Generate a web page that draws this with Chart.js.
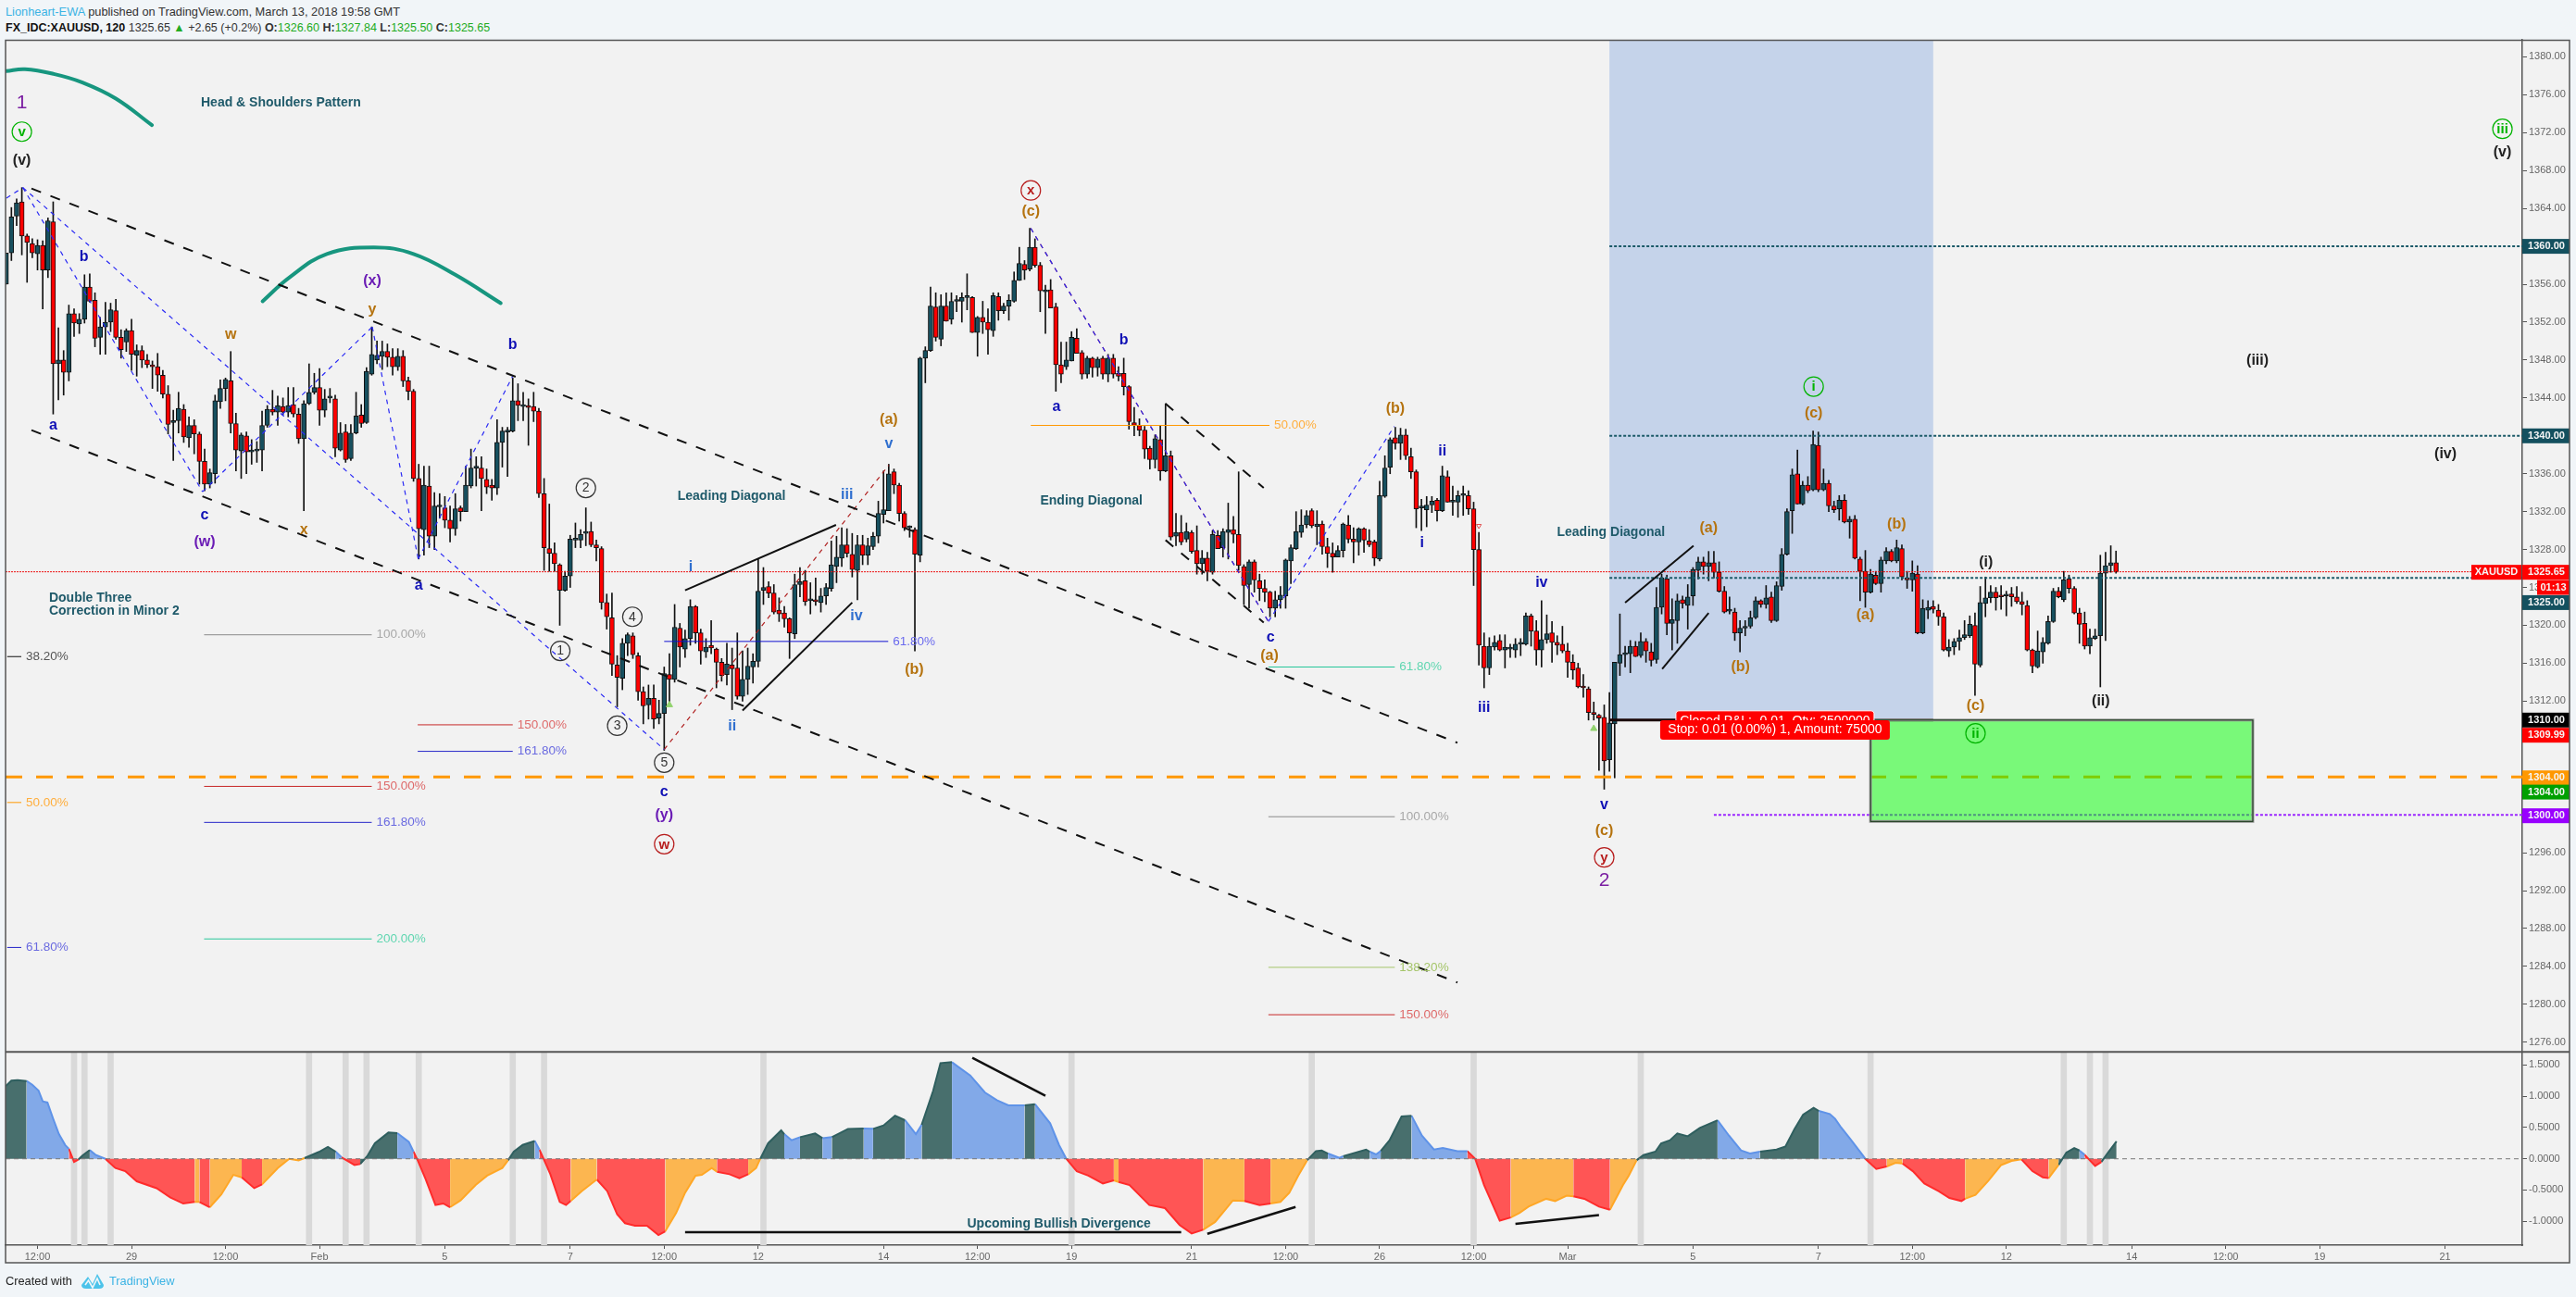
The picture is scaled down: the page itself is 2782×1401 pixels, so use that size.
<!DOCTYPE html>
<html><head><meta charset="utf-8"><title>XAUUSD</title>
<script src="https://cdn.jsdelivr.net/npm/chart.js@4/dist/chart.umd.min.js"></script>
<style>
html,body{margin:0;padding:0;background:#f1f5f8;width:2782px;height:1401px;overflow:hidden;font-family:"Liberation Sans",Arial,sans-serif;font-size:12.8px;color:#333}
canvas{position:absolute;left:0}
.t{position:absolute;white-space:nowrap}
.g{color:#22ab22}.l{color:#3bb3e4}
</style></head><body>
<div class="t" style="left:6px;top:5px"><span class="l">Lionheart-EWA</span> published on TradingView.com, March 13, 2018 19:58 GMT</div>
<div class="t" style="left:6px;top:23px;font-size:12.5px"><b style="color:#111">FX_IDC:XAUUSD, 120</b> 1325.65 <span class="g">▲</span> +2.65 (+0.2%) <b>O:</b><span class="g">1326.60</span> <b>H:</b><span class="g">1327.84</span> <b>L:</b><span class="g">1325.50</span> <b>C:</b><span class="g">1325.65</span></div>
<canvas id="price" width="2782" height="1136" style="top:0;width:2782px;height:1136px"></canvas>
<canvas id="osc" width="2782" height="265" style="top:1136px;width:2782px;height:265px"></canvas>
<div class="t" style="left:6px;top:1376px;color:#222">Created with</div>
<svg class="t" style="left:87px;top:1373px" width="26" height="20" viewBox="0 0 26 20"><path d="M1 15 L8 6 L13 14 L18 3 L25 15 Q25 19 20 19 L6 19 Q1 19 1 15Z" fill="#4cc3ea"/><path d="M5 15 L8.5 10 L13 18 L18 8 L21 15" fill="none" stroke="#f1f5f8" stroke-width="1.6"/></svg>
<div class="t l" style="left:118px;top:1376px">TradingView</div>
<script>
const opens=[1356.0,1359.3,1363.2,1364.7,1361.1,1360.3,1359.2,1360.1,1357.5,1362.6,
1347.6,1348.0,1346.7,1352.9,1351.8,1352.3,1355.7,1354.3,1350.4,1351.5,
1352.0,1353.2,1350.4,1349.9,1351.1,1348.5,1349.0,1348.0,1347.5,1347.3,
1346.4,1344.4,1341.4,1341.6,1342.8,1339.8,1341.1,1340.2,1337.3,1334.9,
1336.0,1343.6,1345.0,1345.8,1341.3,1338.4,1340.0,1338.3,1338.4,1338.5,
1341.1,1342.8,1342.5,1343.1,1342.5,1343.3,1342.3,1339.7,1343.4,1344.6,
1345.1,1342.7,1344.0,1343.9,1338.5,1340.4,1337.6,1340.3,1342.2,1341.4,
1346.5,1348.0,1348.4,1348.9,1348.3,1347.3,1348.4,1345.8,1344.7,1335.5,
1330.1,1334.7,1329.4,1332.5,1332.4,1331.1,1330.2,1332.4,1332.0,1334.7,
1336.6,1336.6,1335.4,1334.8,1334.5,1339.3,1340.4,1340.5,1343.7,1343.1,
1343.1,1343.1,1342.6,1333.9,1328.1,1327.6,1326.4,1323.7,1325.2,1329.0,
1329.0,1329.7,1329.9,1328.5,1328.1,1322.4,1320.8,1315.8,1314.4,1318.1,
1318.9,1316.8,1313.0,1311.6,1312.3,1310.2,1310.7,1314.8,1314.3,1319.7,
1317.5,1318.6,1322.0,1319.2,1317.2,1317.9,1317.5,1316.1,1314.8,1315.8,
1315.5,1312.5,1314.3,1315.6,1316.2,1323.7,1324.1,1323.4,1321.6,1321.3,
1320.7,1319.1,1324.3,1324.7,1322.6,1322.7,1322.4,1323.1,1323.9,1326.2,
1327.1,1328.5,1327.5,1325.8,1328.5,1327.4,1328.3,1329.4,1331.7,1332.1,
1336.2,1334.8,1331.8,1330.3,1330.1,1327.4,1348.2,1349.0,1353.6,1350.2,
1353.7,1352.3,1354.2,1354.2,1354.6,1354.6,1350.9,1352.5,1352.0,1351.1,
1354.7,1353.2,1353.7,1354.2,1356.4,1358.1,1357.6,1359.9,1358.0,1355.2,
1355.4,1353.6,1347.5,1347.3,1347.9,1350.3,1348.8,1346.5,1348.2,1347.2,
1348.2,1346.5,1348.2,1346.6,1346.6,1345.2,1341.4,1341.1,1340.6,1338.7,
1337.5,1339.6,1336.3,1337.9,1329.4,1329.8,1329.1,1329.8,1327.9,1326.5,
1327.1,1325.6,1329.5,1328.2,1329.8,1330.1,1329.6,1326.2,1324.3,1326.7,
1324.7,1323.9,1323.5,1321.8,1322.7,1323.1,1326.8,1328.1,1329.8,1330.6,
1332.1,1330.4,1330.7,1328.3,1327.6,1327.2,1327.9,1330.6,1329.1,1328.8,
1330.2,1328.9,1328.8,1327.0,1333.6,1336.7,1339.8,1339.2,1340.1,1337.8,
1336.2,1332.4,1332.2,1332.7,1333.2,1332.1,1335.7,1333.0,1333.0,1333.7,
1333.7,1332.3,1328.0,1317.8,1315.5,1317.7,1318.4,1317.4,1317.5,1317.4,
1318.0,1318.0,1321.0,1319.4,1317.4,1318.5,1319.2,1318.2,1318.0,1317.3,
1316.1,1315.5,1313.5,1313.3,1310.8,1310.5,1310.3,1305.8,1309.6,1316.0,
1316.9,1317.0,1317.8,1316.8,1318.3,1317.2,1316.4,1321.9,1324.9,1320.2,
1320.5,1322.7,1322.1,1323.1,1325.8,1326.7,1326.2,1326.6,1325.6,1323.6,
1321.5,1321.4,1319.2,1319.7,1319.9,1320.8,1322.6,1322.2,1323.0,1320.5,
1324.1,1327.5,1332.1,1336.0,1332.8,1334.8,1334.3,1339.0,1334.3,1335.0,
1332.6,1332.3,1333.2,1330.9,1331.2,1327.0,1325.7,1323.5,1325.3,1324.4,
1326.8,1327.8,1326.8,1328.1,1325.0,1324.8,1325.4,1319.2,1321.6,1322.0,
1321.6,1320.9,1317.3,1317.7,1318.3,1318.7,1318.9,1320.0,1315.8,1322.3,
1322.9,1323.5,1323.2,1323.1,1323.3,1323.0,1322.5,1322.1,1317.4,1315.6,
1317.2,1318.1,1320.4,1323.6,1322.7,1324.9,1323.9,1321.3,1320.2,1317.8,
1318.6,1318.9,1325.5,1326.3,1326.6];
const highs=[1359.3,1364.1,1365.0,1366.2,1361.3,1360.8,1360.7,1360.6,1363.0,1364.7,
1351.4,1349.0,1353.8,1353.4,1352.9,1357.0,1357.1,1355.1,1352.5,1354.1,
1354.0,1354.4,1351.2,1351.3,1352.3,1349.6,1349.5,1348.6,1347.9,1348.7,
1346.9,1345.3,1342.7,1344.6,1343.3,1342.0,1341.7,1340.4,1338.6,1336.5,
1344.3,1345.9,1346.1,1348.9,1342.4,1340.3,1340.4,1339.6,1339.4,1342.6,
1343.2,1344.8,1344.2,1344.0,1345.1,1345.1,1342.9,1343.7,1347.6,1346.6,
1347.1,1344.9,1345.0,1344.3,1341.4,1341.2,1341.2,1344.6,1343.3,1347.2,
1351.5,1350.0,1350.0,1349.7,1349.2,1349.2,1349.0,1346.2,1344.9,1337.0,
1336.8,1336.8,1334.0,1333.9,1333.6,1332.6,1333.9,1332.6,1336.8,1338.6,
1337.8,1337.8,1336.5,1335.4,1341.7,1340.9,1340.9,1346.1,1345.5,1344.6,
1343.9,1344.6,1342.9,1335.5,1332.8,1328.7,1326.5,1325.7,1329.5,1330.8,
1330.1,1332.4,1330.9,1329.0,1328.3,1323.3,1323.4,1316.8,1318.6,1319.2,
1319.2,1317.1,1313.5,1313.7,1313.7,1312.1,1315.6,1317.0,1322.2,1320.2,
1319.5,1322.7,1322.1,1319.6,1318.6,1320.5,1317.6,1316.5,1318.1,1317.6,
1319.2,1317.3,1317.6,1317.0,1327.0,1326.1,1324.6,1324.3,1322.9,1322.0,
1320.8,1325.4,1326.1,1325.8,1324.5,1325.0,1323.9,1324.4,1328.9,1329.4,
1330.3,1330.2,1329.7,1329.5,1329.5,1329.2,1329.8,1333.1,1336.3,1337.0,
1336.5,1335.0,1332.0,1330.5,1330.3,1348.3,1349.4,1355.7,1355.1,1354.9,
1355.1,1355.1,1354.8,1355.1,1357.1,1354.7,1352.6,1354.2,1353.4,1355.1,
1355.1,1354.0,1354.9,1357.3,1359.9,1358.5,1361.9,1360.8,1358.3,1355.9,
1356.5,1354.0,1349.9,1349.9,1351.0,1351.3,1349.0,1348.4,1348.3,1348.3,
1348.4,1348.6,1348.6,1347.3,1348.2,1345.3,1343.0,1341.8,1341.0,1338.9,
1340.1,1341.1,1343.4,1338.4,1331.8,1331.6,1330.8,1330.0,1330.5,1327.9,
1327.7,1330.0,1330.0,1330.2,1332.9,1331.5,1336.2,1326.4,1326.9,1326.9,
1325.4,1324.8,1323.6,1323.6,1324.1,1327.0,1328.5,1332.0,1332.2,1332.1,
1332.3,1332.1,1331.0,1329.2,1328.7,1328.4,1330.8,1331.6,1330.3,1330.3,
1330.3,1330.1,1329.0,1335.2,1337.9,1339.8,1340.9,1340.8,1340.7,1338.7,
1336.4,1333.3,1333.6,1333.6,1333.4,1336.8,1336.3,1334.7,1334.2,1334.7,
1334.2,1333.0,1329.8,1319.2,1318.7,1318.9,1319.0,1319.0,1318.0,1318.6,
1318.6,1321.3,1321.2,1320.5,1322.6,1321.1,1320.4,1318.9,1319.9,1318.1,
1316.9,1316.0,1314.8,1313.5,1311.9,1310.6,1311.6,1312.9,1316.1,1321.2,
1317.8,1318.4,1318.3,1319.2,1318.6,1318.1,1324.0,1325.4,1325.3,1322.8,
1323.3,1323.1,1324.3,1326.1,1327.2,1327.2,1327.8,1327.8,1326.7,1324.1,
1323.0,1321.8,1320.5,1320.5,1321.5,1323.0,1322.7,1324.2,1323.5,1324.6,
1328.1,1332.3,1336.5,1338.5,1335.2,1335.7,1340.5,1340.4,1336.5,1335.3,
1333.1,1333.7,1333.8,1331.5,1331.6,1327.2,1327.9,1325.9,1325.7,1327.2,
1328.2,1328.0,1329.0,1328.5,1325.7,1326.8,1326.3,1322.7,1322.6,1322.6,
1322.2,1321.3,1318.5,1318.6,1319.5,1320.5,1321.0,1321.3,1324.1,1325.1,
1324.2,1324.0,1324.2,1323.6,1324.0,1324.1,1323.5,1322.6,1317.5,1319.4,
1318.7,1321.0,1323.9,1324.0,1325.7,1325.3,1324.1,1321.8,1321.4,1319.6,
1319.6,1327.4,1327.7,1328.4,1327.84];
const lows=[1356.0,1358.5,1362.2,1359.1,1356.2,1358.8,1357.5,1353.4,1356.7,1342.3,
1343.8,1344.3,1345.8,1350.5,1350.8,1351.9,1354.1,1349.4,1348.6,1348.6,
1351.0,1350.2,1348.2,1348.9,1346.9,1346.3,1347.2,1347.2,1345.0,1344.7,
1344.0,1340.2,1337.4,1340.3,1339.3,1338.8,1338.1,1334.9,1334.2,1334.5,
1335.0,1342.9,1343.7,1340.3,1336.3,1335.5,1336.0,1337.0,1337.2,1336.3,
1340.9,1342.2,1341.1,1342.2,1342.0,1342.0,1339.2,1332.1,1343.3,1344.4,
1341.1,1342.0,1343.5,1337.8,1338.4,1337.2,1337.4,1340.2,1340.9,1341.3,
1346.4,1347.6,1347.0,1347.3,1346.4,1346.9,1345.2,1343.8,1335.2,1327.0,
1327.4,1328.2,1328.0,1331.3,1330.3,1328.8,1329.5,1331.0,1332.0,1334.5,
1334.7,1332.1,1333.9,1333.2,1333.8,1336.7,1335.7,1340.4,1341.6,1341.6,
1339.0,1341.5,1333.5,1325.8,1325.7,1325.7,1320.0,1323.6,1324.0,1328.2,
1328.2,1328.4,1328.3,1326.8,1321.7,1319.6,1314.7,1311.4,1313.2,1316.8,
1316.5,1312.1,1309.6,1310.1,1309.1,1309.6,1306.8,1311.9,1314.0,1315.6,
1316.6,1317.9,1318.1,1315.9,1316.6,1317.0,1313.4,1314.1,1313.7,1311.1,
1312.2,1312.0,1312.7,1313.9,1315.6,1322.2,1322.9,1321.2,1320.4,1319.8,
1316.5,1318.6,1323.0,1322.1,1321.2,1322.1,1321.4,1322.2,1323.6,1324.5,
1326.2,1327.2,1325.1,1322.7,1326.4,1326.4,1328.0,1328.7,1330.8,1332.1,
1333.9,1331.0,1330.0,1329.3,1317.3,1326.7,1345.6,1348.9,1350.0,1349.5,
1352.1,1351.8,1353.1,1352.0,1353.3,1350.9,1348.4,1350.8,1348.6,1350.5,
1352.2,1352.9,1352.2,1354.1,1356.4,1356.5,1357.4,1357.8,1353.1,1350.8,
1353.5,1344.7,1345.6,1347.0,1347.9,1348.7,1346.0,1346.1,1346.2,1346.3,
1346.0,1345.7,1346.1,1345.8,1344.3,1340.7,1340.0,1340.0,1337.6,1336.5,
1336.6,1335.3,1336.2,1329.0,1328.4,1328.5,1328.8,1327.6,1325.4,1325.4,
1324.7,1325.4,1328.1,1327.2,1327.0,1328.7,1325.8,1322.2,1321.8,1323.5,
1322.6,1322.5,1320.9,1320.9,1321.8,1321.8,1324.4,1328.0,1329.3,1330.3,
1330.3,1328.5,1327.5,1326.1,1325.6,1327.2,1327.2,1328.7,1326.6,1327.4,
1327.7,1328.3,1326.3,1326.8,1333.5,1336.0,1338.6,1337.5,1337.5,1335.5,
1330.3,1330.0,1330.4,1331.9,1331.0,1332.0,1333.0,1331.6,1331.4,1331.6,
1331.7,1324.2,1315.8,1313.4,1314.8,1317.4,1317.3,1315.5,1316.6,1316.6,
1316.8,1317.9,1317.8,1315.8,1315.6,1318.1,1316.1,1316.9,1317.1,1314.5,
1314.3,1313.4,1312.4,1310.0,1310.0,1304.7,1302.7,1304.6,1303.9,1314.7,
1315.6,1315.0,1316.7,1316.6,1316.1,1315.7,1316.0,1321.2,1319.0,1317.4,
1318.1,1321.8,1319.6,1322.1,1324.9,1325.4,1324.7,1325.0,1323.5,1321.3,
1321.2,1318.4,1317.2,1318.9,1319.7,1320.7,1321.9,1321.8,1320.3,1320.4,
1323.7,1327.4,1329.7,1332.8,1332.7,1334.0,1334.2,1334.1,1334.2,1332.0,
1331.9,1331.1,1330.8,1329.2,1327.0,1322.6,1321.9,1323.4,1324.3,1323.5,
1326.5,1326.7,1326.6,1324.8,1323.9,1323.6,1319.1,1319.1,1320.7,1321.3,
1320.0,1317.3,1316.7,1316.9,1317.4,1318.5,1318.7,1312.6,1315.6,1320.9,
1322.4,1321.6,1321.7,1321.0,1322.0,1322.3,1321.1,1317.3,1315.0,1315.5,
1316.0,1318.0,1320.3,1322.9,1322.5,1323.4,1321.2,1318.1,1317.5,1317.0,
1318.5,1313.5,1318.4,1325.6,1325.5];
const closes=[1359.3,1363.1,1364.6,1361.1,1360.4,1359.3,1360.1,1357.5,1362.7,1347.6,
1348.0,1346.7,1352.9,1351.9,1352.3,1355.7,1354.2,1350.3,1351.5,1352.0,
1353.3,1350.4,1349.1,1351.1,1348.6,1349.0,1348.0,1347.5,1347.3,1346.4,
1344.4,1341.2,1341.6,1342.9,1339.9,1341.1,1340.2,1337.3,1334.9,1336.1,
1343.7,1345.0,1345.95,1341.3,1338.5,1340.1,1338.3,1338.4,1338.5,1341.1,
1342.8,1342.5,1343.2,1342.5,1343.2,1342.3,1339.7,1343.4,1344.6,1345.1,
1342.7,1343.9,1344.0,1338.7,1340.3,1337.5,1340.3,1342.1,1341.3,1346.8,
1348.6,1348.5,1348.9,1348.3,1347.3,1348.4,1345.8,1344.7,1335.5,1330.2,
1334.8,1329.4,1332.6,1332.6,1331.1,1330.2,1332.3,1332.0,1334.8,1336.6,
1336.8,1335.5,1334.6,1334.5,1339.3,1340.5,1340.5,1343.7,1343.2,1343.1,
1343.0,1342.6,1333.9,1328.2,1327.6,1326.5,1323.7,1325.2,1329.1,1329.0,
1329.6,1329.8,1328.5,1328.2,1322.4,1320.9,1315.9,1314.5,1318.1,1319.0,
1316.9,1313.0,1311.5,1312.3,1310.1,1310.7,1314.9,1314.3,1319.8,1317.7,
1318.6,1322.0,1319.2,1317.3,1317.7,1317.6,1316.1,1314.7,1315.9,1315.4,
1312.5,1314.3,1315.7,1316.2,1323.6,1324.0,1323.4,1321.4,1321.2,1320.7,
1319.2,1324.3,1324.6,1322.5,1322.6,1322.5,1323.1,1324.0,1326.4,1327.2,
1328.5,1327.6,1325.9,1328.5,1327.4,1328.4,1329.4,1331.8,1332.2,1336.0,
1334.8,1331.8,1330.3,1330.3,1327.5,1348.2,1349.0,1353.7,1350.4,1353.7,
1352.1,1354.2,1354.3,1354.6,1354.6,1350.9,1352.5,1352.0,1351.2,1354.8,
1353.2,1353.7,1354.3,1356.4,1358.2,1357.5,1359.9,1358.0,1355.3,1355.4,
1353.5,1347.5,1346.5,1348.0,1350.4,1348.7,1346.5,1348.2,1347.2,1348.1,
1346.5,1348.2,1346.5,1346.3,1345.2,1341.5,1341.1,1340.6,1338.6,1337.5,
1339.7,1336.3,1337.9,1329.3,1329.8,1328.8,1329.9,1327.8,1326.5,1327.1,
1325.7,1329.6,1328.1,1329.9,1330.1,1329.6,1326.3,1324.2,1326.7,1324.8,
1323.9,1323.5,1321.8,1322.7,1323.2,1326.9,1328.2,1329.9,1330.6,1331.6,
1330.5,1330.7,1328.3,1327.6,1327.2,1327.9,1330.7,1329.1,1328.8,1330.2,
1329.0,1328.5,1327.1,1333.7,1336.6,1339.6,1339.2,1340.1,1337.9,1336.2,
1332.3,1332.5,1332.7,1333.1,1332.1,1335.8,1333.0,1333.1,1333.7,1333.7,
1332.3,1328.0,1317.9,1315.5,1317.8,1318.2,1317.4,1317.7,1317.5,1318.0,
1318.1,1321.0,1319.4,1317.4,1318.5,1319.1,1318.2,1317.9,1317.3,1316.1,
1315.3,1313.5,1313.4,1310.8,1310.6,1310.2,1305.7,1309.7,1316.1,1316.9,
1317.0,1317.8,1316.7,1318.3,1317.3,1316.3,1321.9,1325.0,1320.2,1320.6,
1322.6,1322.3,1323.0,1325.9,1326.7,1326.2,1326.6,1325.6,1323.6,1321.4,
1321.5,1319.2,1319.7,1319.7,1320.8,1322.6,1322.2,1322.9,1320.5,1324.2,
1327.5,1332.0,1335.9,1332.8,1334.8,1334.2,1339.1,1334.3,1335.0,1332.6,
1332.2,1333.2,1330.9,1331.2,1327.1,1325.7,1323.5,1325.4,1324.4,1326.9,
1327.8,1326.8,1328.2,1325.1,1324.8,1325.5,1319.2,1321.8,1321.9,1321.7,
1320.9,1317.4,1317.7,1318.3,1318.7,1319.0,1320.1,1315.9,1322.4,1322.9,
1323.5,1322.9,1323.0,1323.2,1323.0,1322.5,1322.2,1317.4,1315.7,1317.3,
1318.2,1320.4,1323.6,1323.0,1324.8,1323.9,1321.3,1320.1,1317.8,1318.7,
1318.9,1325.5,1326.3,1326.6,1325.65];

const dayTickBars=[6,24,42,60,84,108,126,144,168,186,204,227,245,263,281,299,323,347,365,383,407,425,443,467];
const dayTickLabels=["12:00","29","12:00","Feb","5","7","12:00","12","14","12:00","19","21","12:00","26","12:00","Mar","5","7","12:00","12","14","12:00","19","21"];
const priceTicks=[1276,1280,1284,1288,1292,1296,1300,1304,1308,1312,1316,1320,1324,1328,1332,1336,1340,1344,1348,1352,1356,1360,1364,1368,1372,1376,1380];
const oscTicks=[-1,-0.5,0,0.5,1,1.5];

const oscBars=[-0.12,1,2.2,3.9,5,6.2,7,7.9,9,10.1,11.3,12,13,13.8,14.6,16,17.1,19,20.9,22.8,25,28.8,31.4,33.9,36.1,37,39,41.2,43.5,45.1,47.5,49,52,54.2,56,57.1,59.9,61.6,63.1,64.2,66.7,67.8,69.2,70.6,73.2,74.9,77.1,78,78.8,80.3,82.2,83.7,85,87,89.9,92.1,95,96.1,97.2,98.9,101.2,102.1,102.9,104.2,106,107.2,108.1,110.2,113.1,115.1,117,118.5,120.4,122.7,124.9,126.2,128.3,130,132,133.2,135.1,136.1,138.5,140.4,142.1,143.6,144.4,145.9,148.4,149,150.4,152,154.9,156.3,158.1,161.2,164.2,166,168,170.2,172.1,174.2,175.3,177.5,178.9,181.1,182.3,184.6,187.4,189.7,191.9,195,197,199.9,201.6,203,205,207.2,210,212.1,213,215.1,218.9,221.9,224.7,227,229.2,231.5,233.2,234.9,237.1,240,242.1,244,245.7,247.4,249.1,250.8,251.9,253.1,255.3,256,260.4,261.1,262.3,263.2,264.9,267.2,269.1,271.1,273.4,275.1,277.9,279.8,281.3,283,286,288.1,289.8,291.5,294.9,296.6,298.8,300.1,302.2,305,307.1,309.6,310.7,312.2,313.5,315.8,316.9,318.6,320,322,324.3,327.7,329.9,332.2,333.9,335.8,339,340.7,342.4,344.1,346.1,347.1,349.2,350.2,351.2,353.1,355.1,356,358.1,360.1,361.8,363.1,365.1,367.3,370.1,372.1,374.4,375.1,377.1,379.6,382,384,385.9,388,390,391.1,393,394.5,396,397,398,400,401.2,402.5,404.1];
const oscValues=[1.16,1.25,1.26,1.245,1.185,1.09,0.92,0.9,0.64,0.395,0.22,0.16,-0.05,-0.015,0.05,0.14,0.064,0,-0.148,-0.198,-0.36,-0.47,-0.617,-0.716,-0.69,-0.69,-0.775,-0.57,-0.257,-0.296,-0.47,-0.41,-0.148,0,-0.025,0.01,0.11,0.19,0.114,0.025,-0.1,-0.084,0.05,0.248,0.42,0.41,0.27,0.114,-0.025,-0.32,-0.74,-0.715,-0.775,-0.666,-0.42,-0.27,-0.148,-0.025,0.114,0.222,0.287,0.148,0,-0.247,-0.69,-0.74,-0.676,-0.518,-0.33,-0.518,-0.89,-1.03,-1.07,-1.07,-1.22,-1.16,-0.864,-0.543,-0.27,-0.257,-0.148,-0.207,-0.247,-0.31,-0.247,-0.148,0,0.248,0.455,0.395,0.296,0.346,0.405,0.33,0.346,0.479,0.484,0.479,0.534,0.69,0.618,0.395,0.544,1.087,1.531,1.546,1.472,1.333,1.062,0.939,0.855,0.855,0.875,0.568,0.222,0,-0.198,-0.27,-0.395,-0.346,-0.37,-0.42,-0.74,-0.79,-1.06,-1.195,-1.135,-1.01,-0.84,-0.666,-0.676,-0.74,-0.715,-0.69,-0.543,-0.27,-0.025,0.123,0.133,0.084,0.015,0.04,0.148,0.114,0.07,0.123,0.296,0.677,0.69,0.37,0.148,0.173,0.123,0.123,0,-0.42,-0.99,-0.94,-0.864,-0.765,-0.64,-0.676,-0.59,-0.6,-0.64,-0.765,-0.815,-0.42,-0.27,-0.025,0.059,0.114,0.247,0.296,0.405,0.36,0.494,0.617,0.37,0.133,0.084,0.114,0.148,0.198,0.47,0.706,0.815,0.766,0.716,0.642,0.52,0.32,0.1,0,-0.163,-0.123,-0.064,-0.074,-0.198,-0.395,-0.52,-0.627,-0.676,-0.64,-0.578,-0.346,-0.1,-0.035,-0.01,-0.198,-0.296,-0.31,-0.1,0.1,0.173,0.133,0.064,-0.114,-0.05,0.1,0.28];
const phaseStarts=[-0.12,3.9,12,13.8,16,19,
36.1,37,39,45.1,49,57.1,63.1,64.2,67.8,74.9,
78,85,96.1,101.2,102.1,108.1,113.1,126.2,136.1,142.1,
144.4,149,152,156.3,158.1,164.2,166,172.1,175.3,181.1,
195,197,203,212.1,213,229.2,237.1,242.1,249.1,253.1,
256,261.1,263.2,269.1,279.8,288.1,300.1,307.1,312.2,327.7,
335.8,347.1,356,360.1,363.1,375.1,385.9,391.1,393,397,398,401.2];
const phaseNames=["T","B","R","T","B","R",
"O","R","O","R","O","T","B","R","T","B",
"R","O","T","B","R","O","R","O","R","O",
"T","B","T","B","T","B","T","B","T","B",
"T","B","R","O","R","O","R","O","T","B",
"T","B","T","B","R","O","R","O","T","B",
"T","B","R","O","R","O","R","O","T","B","R","T"];
const signalBars=[13,15,20,58,65,69,79,97,103,145,204,250,281,313,357,394,399,402];

const dashedTrends=[[4.84,1366.1,277.9,1307.6],[4.84,1340.6,277.9,1282.3],[222,1343.4,240.8,1334.5],[222,1329,240.8,1320.3]];
const solidTrends=[[130,1323.7,158.9,1330.6],[141,1311,162,1322.4],[310,1322.4,323.1,1328.4],[317.1,1315.4,326,1321.3]];
const blueWaves=[[0.05,1365.1,3.2,1366.2],[3.2,1366.2,37.6,1334.1],[3.2,1366.2,126,1306.9],[37.6,1334.1,70.1,1351.5],[70.1,1351.5,78.9,1327],[78.9,1327,97,1346.3],[196.2,1361.9,241.7,1320.4],[241.7,1320.4,265.8,1341]];
const redWaves=[[126,1306.9,169,1336.9],[196.2,1361.9,241.7,1320.4]];
const leftShoulderBars=[0,3.6,9.1,14.6,21,27.9];
const leftShoulderPrices=[1378.5,1378.7,1378.2,1377.3,1375.6,1372.8];
const headBars=[49.1,54.2,61.4,70.4,78,86,94.7];
const headPrices=[1354.2,1356.7,1359.2,1359.9,1359.2,1357,1354];
const divergenceLines=[[130,-1.175,225,-1.175],[185,1.615,199,1.01],[230,-1.2,246.9,-0.77],[289,-1.04,305,-0.9]];
const fibLevels=[
[37.9,70,1319,"100.00%","#8a8a8a","#a8a8a8"],[0.2,2.9,1316.7,"38.20%","#111111","#555555"],[0.2,2.9,1301.3,"50.00%","#ff9800","#ffae3d"],[0.2,2.9,1286,"61.80%","#2525c8","#6a6ae0"],
[78.8,97,1309.5,"150.00%","#c62828","#de6a6a"],[78.8,97,1306.7,"161.80%","#2525c8","#6a6ae0"],[37.9,70,1303,"150.00%","#c62828","#de6a6a"],[37.9,70,1299.2,"161.80%","#2525c8","#6a6ae0"],[37.9,70,1286.9,"200.00%","#26c79a","#5fd6b0"],
[126,168.9,1318.3,"61.80%","#0f0fd0","#6a6aee"],[196.2,241.9,1341.1,"50.00%","#ff9800","#ffae3d"],[241.7,265.9,1315.6,"61.80%","#26c79a","#5fd6b0"],[241.7,265.9,1299.8,"100.00%","#8a8a8a","#a8a8a8"],[241.7,265.9,1283.9,"138.20%","#a5c56a","#a5c56a"],[241.7,265.9,1278.9,"150.00%","#c62828","#de6a6a"]];
const C={brown:"#b5730f",blue:"#0f10b5",sky:"#2f6fcf",purple:"#6a1bb5",black:"#222222",green:"#00b300",wred:"#b71c1c",grey:"#333333"};
const waveLabels=[
[14.9,1358.9,"b",C.blue],[43,1350.7,"w",C.brown],[70.1,1356.3,"(x)",C.purple],[70.1,1353.3,"y",C.brown],[97,1349.6,"b",C.blue],[9,1341.1,"a",C.blue],[38,1331.6,"c",C.blue],[38,1328.8,"(w)",C.purple],[57,1330.1,"x",C.brown],[79,1324.2,"a",C.blue],
[126,1302.4,"c",C.blue],[126,1300,"(y)",C.purple],[131.1,1326.1,"i",C.sky],[139,1309.3,"ii",C.sky],[161,1333.8,"iii",C.sky],[162.8,1321,"iv",C.sky],[169,1339.1,"v",C.sky],[169,1341.7,"(a)",C.brown],[173.9,1315.3,"(b)",C.brown],
[196.2,1363.7,"(c)",C.brown],[201.1,1343,"a",C.blue],[214,1350.1,"b",C.blue],[242.1,1318.7,"c",C.blue],[241.9,1316.8,"(a)",C.brown],[266,1342.9,"(b)",C.brown],[275,1338.4,"ii",C.blue],[271.1,1328.7,"i",C.blue],[283,1311.3,"iii",C.blue],[294,1324.5,"iv",C.blue],[306,1301,"v",C.blue],[306,1298.3,"(c)",C.brown],
[326,1330.2,"(a)",C.brown],[332.1,1315.6,"(b)",C.brown],[346.1,1342.4,"(c)",C.brown],[362,1330.6,"(b)",C.brown],[356,1321.1,"(a)",C.brown],[379.1,1326.6,"(i)",C.black],[377.1,1311.5,"(c)",C.brown],[401.1,1312,"(ii)",C.black],[431.1,1347.9,"(iii)",C.black],[467.1,1338.1,"(iv)",C.black],[478,1369.9,"(v)",C.black],[3,1369,"(v)",C.black]];
const circledLabels=[[3,1372.1,"v",C.green,1],[111,1334.5,"2",C.grey,0],[106.1,1317.3,"1",C.grey,0],[117,1309.4,"3",C.grey,0],[119.9,1320.9,"4",C.grey,0],[126,1305.5,"5",C.grey,0],[126,1296.9,"w",C.wred,1],[196.2,1365.9,"x",C.wred,1],[306,1295.5,"y",C.wred,1],[346.1,1345.2,"i",C.green,1],[377.1,1308.6,"ii",C.green,1],[478,1372.4,"iii",C.green,1]];
const minorLabels=[[3,1375.1,"1"],[306,1293.1,"2"]];
const noteLabels=[[52.6,1375.1,"Head & Shoulders Pattern","center"],[8.2,1322.9,"Double Three","left"],[8.2,1321.5,"Correction in Minor 2","left"],[138.9,1333.6,"Leading Diagonal","center"],[207.8,1333.1,"Ending Diagonal","center"],[307.3,1329.8,"Leading Diagonal","center"]];
const axisBadges=[["1360.00",1360,"#14505f"],["1340.00",1340,"#14505f"],["1325.65",1325.6,"#ff0000"],["1325.00",1322.4,"#14505f"],["1310.00",1310,"#000000"],["1309.99",1308.4,"#ff0000"],["1304.00",1303.9,"#ff9800"],["1304.00",1302.4,"#00a000"],["1300.00",1299.9,"#9900ff"]];
const countdownText="01:13", countdownPrice=1324;

const SANS='"Liberation Sans",Arial,sans-serif';
const BAR_MIN=-0.12, BAR_MAX=481.8;
function barSet(o){return Object.assign({type:"bar",grouped:false,parsing:true,borderSkipped:false},o);}
function segLine(list,color,width,dash,order){
  const out=[];
  list.forEach(s=>out.push({type:"line",data:[{x:s[0],y:s[1]},{x:s[2],y:s[3]}],borderColor:color,borderWidth:width,borderDash:dash||[],pointRadius:0,tension:0,fill:false,order:order||1}));
  return out;
}
const priceSets=[];
priceSets.push(barSet({data:opens.map((_,i)=>({x:i,y:[lows[i],highs[i]]})),backgroundColor:"#111111",barThickness:1,minBarLength:1,order:6}));
priceSets.push(barSet({data:opens.map((_,i)=>({x:i,y:[opens[i],closes[i]]})),
  backgroundColor:opens.map((o,i)=>closes[i]>=o?"#17505f":"#ff0000"),borderColor:"#111111",borderWidth:1,barThickness:5,minBarLength:2,order:5}));
const hLine=(a,b,p,c,w,d,o)=>segLine([[a,p,b,p]],c,w,d,o);
priceSets.push(...hLine(BAR_MIN,BAR_MAX,1325.65,"#ee1111",1,[2,1],2));
priceSets.push(...hLine(307,BAR_MAX,1360,"#1b5a68",2,[3,2],2));
priceSets.push(...hLine(307,BAR_MAX,1340,"#1b5a68",2,[3,2],2));
priceSets.push(...hLine(307,BAR_MAX,1325,"#1b5a68",2,[3,2],2));
priceSets.push(...hLine(BAR_MIN,BAR_MAX,1304,"#ff9800",3,[18,15],3));
priceSets.push(...hLine(327,BAR_MAX,1300,"#9c27ff",2,[3,2],2));
priceSets.push(...hLine(307,369,1310,"#1a0505",3,[],2));
priceSets.push(...segLine(blueWaves,"#2a2af5",1.2,[5,5],2));
priceSets.push(...segLine(redWaves,"#b02020",1.2,[5,5],2));
priceSets.push(...segLine(dashedTrends,"#111111",2,[11,11],1));
priceSets.push(...segLine(solidTrends,"#111111",2,[],1));
fibLevels.forEach(f=>priceSets.push(...hLine(f[0],f[1],f[2],f[4],1,[],2)));
const arc=(xs,ys)=>({type:"line",data:xs.map((x,k)=>({x,y:ys[k]})),borderColor:"#17967f",borderWidth:4,pointRadius:0,tension:0.4,fill:false,order:1,borderCapStyle:"round"});
priceSets.push(arc(leftShoulderBars,leftShoulderPrices),arc(headBars,headPrices));
priceSets.push({type:"line",showLine:false,data:[{x:127,y:1311.6},{x:304,y:1309.1}],pointStyle:"triangle",pointRadius:4,backgroundColor:"#92d36e",borderColor:"#92d36e",order:1});
priceSets.push({type:"line",showLine:false,data:[{x:282,y:1330.5}],pointStyle:"triangle",pointRadius:3,pointRotation:180,backgroundColor:"rgba(0,0,0,0)",borderColor:"#e05050",borderWidth:1,order:1});

function frame(ctx,a){ctx.save();ctx.fillStyle="#f2f2f2";ctx.fillRect(a[0],a[1],a[2]-a[0],a[3]-a[1]);ctx.restore();}
function text(ctx,t,x,y,font,color,align){ctx.font=font;ctx.fillStyle=color;ctx.textAlign=align||"center";ctx.textBaseline="middle";ctx.fillText(t,x,y);}
const pricePlugin={id:"pricePlugin",
 beforeDraw(c){frame(c.ctx,[6,43,2775,1136]);},
 beforeDatasetsDraw(c){const ctx=c.ctx,X=c.scales.x,Y=c.scales.y;ctx.fillStyle="#c5d3ea";
   const l=X.getPixelForValue(307),r=X.getPixelForValue(369);ctx.fillRect(l,c.chartArea.top,r-l,Y.getPixelForValue(1310)-c.chartArea.top);},
 afterDatasetsDraw(c){const ctx=c.ctx,X=c.scales.x,Y=c.scales.y;ctx.save();
   const gx1=X.getPixelForValue(357),gx2=X.getPixelForValue(430.2),gy1=Y.getPixelForValue(1310),gy2=Y.getPixelForValue(1299.3);
   ctx.fillStyle="rgba(0,255,0,0.5)";ctx.fillRect(gx1,gy1,gx2-gx1,gy2-gy1);ctx.strokeStyle="#9a9a9a";ctx.lineWidth=3;ctx.strokeRect(gx1,gy1,gx2-gx1,gy2-gy1);ctx.strokeStyle="#113311";ctx.lineWidth=1;ctx.strokeRect(gx1,gy1,gx2-gx1,gy2-gy1);
   fibLevels.forEach(f=>text(ctx,f[3],X.getPixelForValue(f[1])+5,Y.getPixelForValue(f[2]),"13.5px "+SANS,f[5],"left"));
   noteLabels.forEach(n=>text(ctx,n[2],X.getPixelForValue(n[0]),Y.getPixelForValue(n[1]),"bold 14px "+SANS,"#1f5a6a",n[3]));
   waveLabels.forEach(w=>text(ctx,w[2],X.getPixelForValue(w[0]),Y.getPixelForValue(w[1]),"bold 16px "+SANS,w[3]));
   minorLabels.forEach(w=>text(ctx,w[2],X.getPixelForValue(w[0]),Y.getPixelForValue(w[1]),"21px "+SANS,"#7b1fa2"));
   circledLabels.forEach(w=>{const x=X.getPixelForValue(w[0]),y=Y.getPixelForValue(w[1]);ctx.beginPath();ctx.arc(x,y,10.5,0,Math.PI*2);ctx.strokeStyle=w[3];ctx.lineWidth=1.2;ctx.stroke();text(ctx,w[2],x,y+0.5,(w[4]?"bold 15px ":"14px ")+SANS,w[3]);});
   const bx=X.getPixelForValue(338.7),box=(y,w,h,t,stroke)=>{ctx.fillStyle="#ff0000";ctx.beginPath();ctx.roundRect(bx-w/2,y-h/2,w,h,3);ctx.fill();if(stroke){ctx.strokeStyle="#ffffff";ctx.lineWidth=1;ctx.stroke();}text(ctx,t,bx,y,"14px "+SANS,"#ffffff");};
   box(Y.getPixelForValue(1309.9),214,22,"Closed P&L: -0.01, Qty: 2500000",true);
   box(Y.getPixelForValue(1308.95),248,21,"Stop: 0.01 (0.00%) 1, Amount: 75000",false);
   ctx.restore();},
 afterDraw(c){const ctx=c.ctx,Y=c.scales.y,a=c.chartArea;ctx.save();
   ctx.fillStyle="#ff0000";const py=Y.getPixelForValue(1325.6);ctx.fillRect(2669,py-8,54,16);text(ctx,"XAUUSD",2696,py,"bold 11px "+SANS,"#f5f5f5");
   axisBadges.forEach(b=>{const y=Y.getPixelForValue(b[1]);ctx.fillStyle=b[2];ctx.fillRect(a.right,y-8,51,16);text(ctx,b[0],2750,y,"bold 11px "+SANS,"#f5f5f5");});
   const cy=Y.getPixelForValue(countdownPrice);ctx.fillStyle="#ff0000";ctx.fillRect(2740,cy-8,35,16);text(ctx,countdownText,2757.5,cy,"bold 11px "+SANS,"#f5f5f5");
   ctx.strokeStyle="#555555";ctx.lineWidth=1.5;ctx.strokeRect(6,43.5,2769,1092.5);ctx.restore();}
};
const fixedTicks=(arr)=>function(s){s.ticks=arr.map(v=>({value:v}));};
const yAxis=(min,max,ticks,fmt)=>({type:"linear",position:"right",min,max,afterFit(s){s.width=51;s.paddingTop=0;s.paddingBottom=0;},afterBuildTicks:fixedTicks(ticks),
  grid:{drawOnChartArea:false,drawTicks:true,tickLength:5,color:"#555555"},border:{display:true,color:"#555555",width:1.5},
  ticks:{padding:2,color:"#666666",font:{family:SANS,size:11},autoSkip:false,callback:fmt}});
new Chart(document.getElementById("price"),{type:"bar",plugins:[pricePlugin],data:{datasets:priceSets},options:{
  responsive:false,animation:false,devicePixelRatio:1,events:[],layout:{autoPadding:false,padding:{left:6,top:43,right:7,bottom:0}},
  plugins:{legend:{display:false},tooltip:{enabled:false}},
  scales:{x:{type:"linear",min:BAR_MIN,max:BAR_MAX,display:false,offset:false,grid:{display:false}},
          y:yAxis(1275,1381.8,priceTicks,v=>Number(v).toFixed(2))}}});

/* oscillator */
const phaseColour={T:["#2f5f5f","#486f6d"],B:["#5f93e8","#82a9e8"],R:["#ff2b2b","#ff5555"],O:["#ffa726","#fcb650"]};
function phaseAt(x){let k=0;for(let j=0;j<phaseStarts.length;j++){if(x>=phaseStarts[j])k=j;}return phaseNames[k];}
const oscSets=[];
let startK=0;
for(let k=0;k<oscBars.length-1;k++){
  const p=phaseAt(oscBars[k]),nextP=k+1<oscBars.length-1?phaseAt(oscBars[k+1]):null;
  if(p!==nextP){
    const pts=[];for(let j=startK;j<=k+1;j++)pts.push({x:oscBars[j],y:oscValues[j]});
    oscSets.push({type:"line",data:pts,borderColor:phaseColour[p][0],backgroundColor:phaseColour[p][1],borderWidth:2,pointRadius:0,tension:0,fill:"origin",order:3});
    startK=k+1;
  }
}
oscSets.push({type:"bar",grouped:false,data:signalBars.map(b=>({x:b,y:[-1.382,1.714]})),backgroundColor:"#d9d9d9",barThickness:6,order:8});
oscSets.push({type:"line",data:[{x:BAR_MIN,y:0},{x:BAR_MAX,y:0}],borderColor:"#777777",borderWidth:1,borderDash:[5,4],pointRadius:0,fill:false,order:2});
oscSets.push(...segLine(divergenceLines,"#111111",2.5,[],1));
const oscPlugin={id:"oscPlugin",
 beforeDraw(c){frame(c.ctx,[6,0,2775,228]);},
 afterDatasetsDraw(c){text(c.ctx,"Upcoming Bullish Divergence",c.scales.x.getPixelForValue(201.6),c.scales.y.getPixelForValue(-1.037),"bold 14px "+SANS,"#1f5a6a");},
 afterDraw(c){const ctx=c.ctx;ctx.save();ctx.strokeStyle="#555555";ctx.lineWidth=1.5;ctx.strokeRect(6,0.5,2769,227.5);ctx.restore();}
};
new Chart(document.getElementById("osc"),{type:"bar",plugins:[oscPlugin],data:{datasets:oscSets},options:{
  responsive:false,animation:false,devicePixelRatio:1,events:[],layout:{autoPadding:false,padding:{left:6,top:0,right:7,bottom:37}},
  plugins:{legend:{display:false},tooltip:{enabled:false}},
  scales:{x:{type:"linear",min:BAR_MIN,max:BAR_MAX,offset:false,afterFit(s){s.height=19;s.paddingLeft=0;s.paddingRight=0;},afterBuildTicks:fixedTicks(dayTickBars),
            grid:{drawOnChartArea:false,drawTicks:true,tickLength:4,color:"#555555",offset:false},border:{display:true,color:"#555555",width:1.5},
            ticks:{maxRotation:0,autoSkip:false,padding:2,color:"#666666",font:{family:SANS,size:11},callback(v,i){return dayTickLabels[i];}}},
          y:yAxis(-1.382,1.714,oscTicks,v=>Number(v).toFixed(4))}}});
</script>
</body></html>
